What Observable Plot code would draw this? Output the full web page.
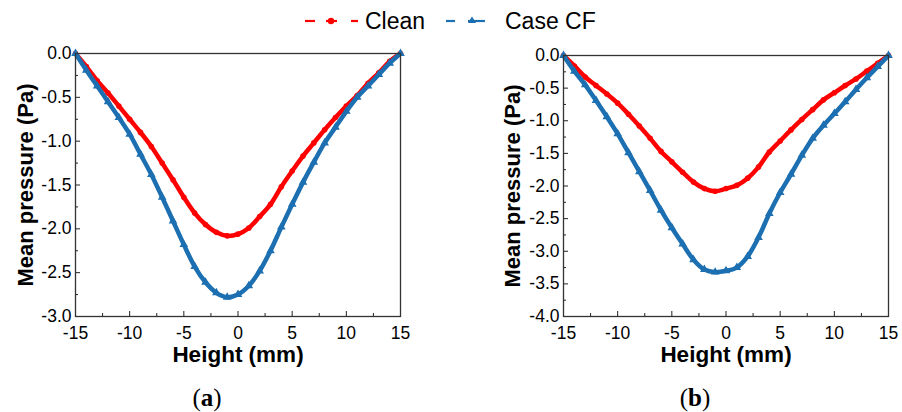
<!DOCTYPE html>
<html><head><meta charset="utf-8">
<script src="https://cdn.jsdelivr.net/npm/d3@7"></script>
<script src="https://cdn.jsdelivr.net/npm/@observablehq/plot@0.6"></script>
<style>
body{margin:0;background:#fff;}
#wrap{position:relative;width:902px;height:412px;font-family:"Liberation Sans",Arial,sans-serif;overflow:hidden;}
.pan{position:absolute;top:40px;}
.cap{position:absolute;top:384px;font-family:"Liberation Serif","DejaVu Serif",serif;font-size:25px;transform:translateX(-50%);color:#000;}
.leg{position:absolute;top:6px;font-size:23px;line-height:30px;color:#000;z-index:2;}
.sw{position:absolute;top:11px;z-index:2;}
</style></head><body>
<div id="wrap">
  <svg class="sw" style="left:300px" width="64" height="20">
    <g stroke="#ff0000" stroke-width="2.2">
      <line x1="5" y1="10" x2="15" y2="10"/><line x1="26" y1="10" x2="37" y2="10"/><line x1="51" y1="10" x2="58" y2="10"/>
    </g>
    <circle cx="31" cy="10" r="3.2" fill="#ff0000"/>
  </svg>
  <div class="leg" style="left:365px">Clean</div>
  <svg class="sw" style="left:440px" width="50" height="20">
    <g stroke="#1c6fb0" stroke-width="2.2">
      <line x1="6" y1="10" x2="15" y2="10"/><line x1="28" y1="10" x2="45" y2="10"/>
    </g>
    <polygon points="32,5.5 36,12 28,12" fill="#1c6fb0"/>
  </svg>
  <div class="leg" style="left:505px">Case CF</div>
  <div id="pa" class="pan" style="left:0px"></div>
  <div id="pb" class="pan" style="left:450px"></div>
  <div class="cap" style="left:207px">(<b>a</b>)</div>
  <div class="cap" style="left:695px">(<b>b</b>)</div>
</div>
<script>
// Height positions (mm)
const heights = [-15,-14,-13,-12,-11,-10,-9,-8,-7,-6,-5,-4,-3,-2,-1,0,1,2,3,4,5,6,7,8,9,10,11,12,13,14,15];
// Panel (a)
const cleanA = [0,-0.15,-0.31,-0.45,-0.60,-0.75,-0.90,-1.06,-1.25,-1.44,-1.64,-1.82,-1.95,-2.04,-2.08,-2.06,-1.99,-1.86,-1.72,-1.52,-1.34,-1.17,-1.02,-0.87,-0.73,-0.60,-0.48,-0.34,-0.22,-0.09,0];
const caseCFA = [0,-0.19,-0.37,-0.55,-0.73,-0.92,-1.15,-1.38,-1.64,-1.91,-2.18,-2.43,-2.61,-2.73,-2.78,-2.75,-2.65,-2.48,-2.25,-1.98,-1.72,-1.47,-1.24,-1.02,-0.84,-0.66,-0.50,-0.37,-0.24,-0.11,0];
// Panel (b)
const cleanB = [0,-0.16,-0.33,-0.46,-0.59,-0.73,-0.90,-1.08,-1.27,-1.47,-1.63,-1.79,-1.94,-2.04,-2.08,-2.04,-1.99,-1.88,-1.71,-1.48,-1.31,-1.14,-0.98,-0.83,-0.68,-0.57,-0.46,-0.36,-0.24,-0.12,0];
const caseCFB = [0,-0.24,-0.45,-0.69,-0.94,-1.20,-1.49,-1.78,-2.07,-2.37,-2.64,-2.89,-3.13,-3.28,-3.32,-3.30,-3.25,-3.08,-2.79,-2.42,-2.10,-1.82,-1.53,-1.27,-1.07,-0.89,-0.71,-0.52,-0.34,-0.17,0];
// Axis ticks
const xMajor = [-15,-10,-5,0,5,10,15];
const xMinor = [-12.5,-7.5,-2.5,2.5,7.5,12.5];
const yMajorA = [0,-0.5,-1,-1.5,-2,-2.5,-3];
const yMinorA = [-0.25,-0.75,-1.25,-1.75,-2.25,-2.75];
const yMajorB = [0,-0.5,-1,-1.5,-2,-2.5,-3,-3.5,-4];
const yMinorB = [-0.25,-0.75,-1.25,-1.75,-2.25,-2.75,-3.25,-3.75];
const xTitle = "Height (mm)";
const yTitle = "Mean pressure (Pa)";

const RED = "#ff0000", BLUE = "#1c6fb0";

function panel({clean, cf, yDomain, yMajor, yMinor, width, marginLeft, marginRight, marginTop, yTitleDx}) {
  const rows = (vals) => heights.map((h, i) => ({h, p: vals[i]}));
  const dc = rows(clean), db = rows(cf);
  return Plot.plot({
    width, height: 372,
    marginLeft, marginRight, marginTop, marginBottom: 96,
    style: {fontFamily: "'Liberation Sans', Arial, sans-serif", fontSize: "17.5px", background: "transparent", color: "#000", overflow: "visible"},
    x: {domain: [-15, 15]},
    y: {domain: yDomain},
    marks: [
      Plot.line(dc, {x: "h", y: "p", stroke: RED, strokeWidth: 4.5, curve: "catmull-rom"}),
      Plot.dot(dc, {x: "h", y: "p", r: 2.8, fill: RED}),
      Plot.line(db, {x: "h", y: "p", stroke: BLUE, strokeWidth: 4.5, curve: "catmull-rom"}),
      Plot.dot(db, {x: "h", y: "p", r: 3.2, fill: BLUE, symbol: "triangle"}),
      Plot.axisX(xMajor, {tickSize: 0, tickPadding: 10, fontSize: 17.5, tickFormat: d => String(d), label: null}),
      Plot.axisX(xMajor, {tickSize: -5, tickFormat: () => "", label: null, stroke: "#222"}),
      Plot.axisX(xMinor, {tickSize: -3, tickFormat: () => "", label: null, stroke: "#222"}),
      Plot.axisY(yMajor, {tickSize: 0, tickPadding: 4, fontSize: 17.5, tickFormat: d => d.toFixed(1), label: null}),
      Plot.axisY(yMajor, {tickSize: -5, tickFormat: () => "", label: null, stroke: "#222"}),
      Plot.axisY(yMinor, {tickSize: -3, tickFormat: () => "", label: null, stroke: "#222"}),
      Plot.frame({stroke: "#333", strokeWidth: 1.3}),
      Plot.text([xTitle], {frameAnchor: "bottom", dy: 45, fontSize: 22.5, fontWeight: "bold", fill: "#000"}),
      Plot.text([yTitle], {frameAnchor: "left", dx: yTitleDx, rotate: -90, textAnchor: "middle", fontSize: 22, fontWeight: "bold", fill: "#000"})
    ]
  });
}

document.getElementById("pa").append(panel({
  clean: cleanA, cf: caseCFA, yDomain: [-3, 0], yMajor: yMajorA, yMinor: yMinorA,
  width: 450, marginLeft: 75, marginRight: 50, marginTop: 13, yTitleDx: -50
}));
document.getElementById("pb").append(panel({
  clean: cleanB, cf: caseCFB, yDomain: [-4, 0], yMajor: yMajorB, yMinor: yMinorB,
  width: 452, marginLeft: 113, marginRight: 14, marginTop: 15, yTitleDx: -51
}));
</script>
</body></html>
